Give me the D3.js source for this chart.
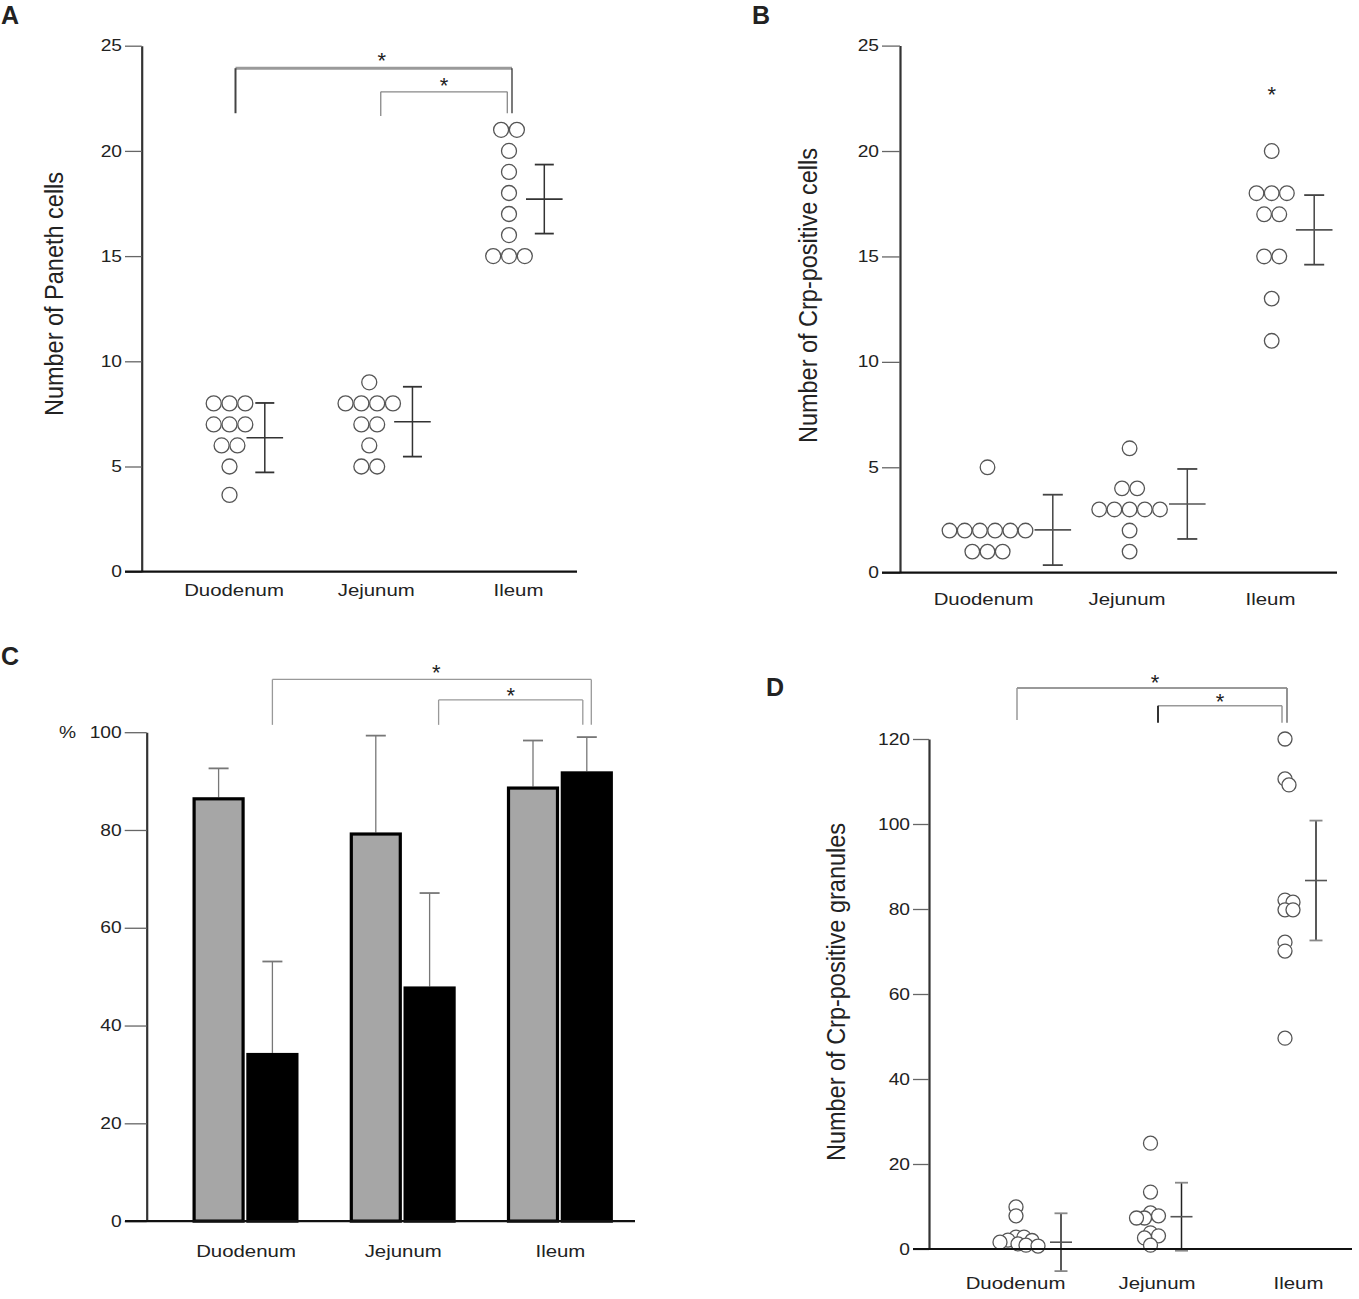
<!DOCTYPE html>
<html>
<head>
<meta charset="utf-8">
<script src="https://cdn.jsdelivr.net/npm/d3@7"></script>
<style>
  body { margin: 0; background: #fff; }
  svg text { font-family: "Liberation Sans", Arial, sans-serif; fill: #222; }
</style>
</head>
<body>
<div id="chart"></div>
<script>
const categories = ['Duodenum', 'Jejunum', 'Ileum']

// A - number of Paneth cells (per crypt), 10 crypts each
const panethDuodenum = [8, 8, 8, 7, 7, 7, 6, 6, 5, 3.65]
const panethJejunum = [9, 8, 8, 8, 8, 7, 7, 6, 5, 5]
const panethIleum = [21, 21, 20, 19, 18, 17, 16, 15, 15, 15]
const panethMean = [6.37, 7.13, 17.71]
const panethErr = [1.65, 1.66, 1.64]
const panethTicks = [0, 5, 10, 15, 20, 25]

// B - number of Crp-positive cells
const crpCellsDuodenum = [5, 2, 2, 2, 2, 2, 2, 1, 1, 1]
const crpCellsJejunum = [5.9, 4, 4, 3, 3, 3, 3, 3, 2, 1]
const crpCellsIleum = [20, 18, 18, 18, 17, 17, 15, 15, 13, 11]
const crpCellsMean = [2.03, 3.26, 16.26]
const crpCellsErr = [1.67, 1.66, 1.65]
const crpCellsTicks = [0, 5, 10, 15, 20, 25]

// C - percentages, two series per segment
const seriesKeys = ['s1', 's2']
const pctS1 = [86.7, 79.5, 88.9]
const pctS1Err = [5.9, 19.8, 9.4]
const pctS2 = [34.4, 48.0, 92.0]
const pctS2Err = [18.7, 19.1, 7.0]
const pctTicks = [0, 20, 40, 60, 80, 100]

// D - number of Crp-positive granules
const granDuodenum = [9.9, 7.8, 2.8, 2.8, 2.1, 2.0, 1.6, 1.2, 0.9, 0.7]
const granJejunum = [24.9, 13.4, 8.5, 7.8, 7.3, 7.3, 3.8, 3.1, 2.6, 0.9]
const granIleum = [120, 110.6, 109.2, 82.1, 81.6, 79.8, 79.8, 72.2, 70.1, 49.6]
const granMean = [1.6, 7.6, 86.7]
const granErr = [6.8, 8.0, 14.1]
const granTicks = [0, 20, 40, 60, 80, 100, 120]

const SX = 1.2 // the original figure is a bit stretched sideways

const svg = d3.select('#chart').append('svg')
  .attr('width', 1359).attr('height', 1299)

function txt(g, x, y, s, size, opts = {}) {
  return g.append('text')
    .attr('transform', `translate(${x},${y}) scale(${opts.sx ?? SX},1)`)
    .attr('text-anchor', opts.anchor || 'middle')
    .style('font-size', size + 'px')
    .style('font-weight', opts.bold ? 'bold' : null)
    .text(s)
}

function yTitle(g, x, y, s) {
  g.append('text')
    .attr('transform', `translate(${x},${y}) scale(1.1,1) rotate(-90)`)
    .attr('text-anchor', 'middle')
    .attr('dy', '0.36em')
    .style('font-size', '23.5px')
    .text(s)
}

function yAxis(g, y, x, tickSize, ticks) {
  const ax = g.append('g').attr('transform', `translate(${x},0)`)
    .call(d3.axisLeft(y).tickValues(ticks).tickSize(tickSize).tickSizeOuter(0).tickPadding(3))
  ax.select('.domain').attr('stroke', '#333').attr('stroke-width', 2.2)
  ax.selectAll('.tick line').attr('stroke', '#666').attr('stroke-width', 1.3)
  ax.selectAll('.tick text')
    .style('font-size', '16px')
    .attr('x', function () { return +d3.select(this).attr('x') / SX })
    .attr('transform', `scale(${SX},1)`)
}

function xBase(g, y0, x1, x2) {
  g.append('line')
    .attr('x1', x1).attr('x2', x2).attr('y1', y0).attr('y2', y0)
    .attr('stroke', '#111').attr('stroke-width', 2.2)
}

function catAxis(g, x, y0, pad) {
  const ax = g.append('g').attr('transform', `translate(0,${y0})`)
    .call(d3.axisBottom(x).tickSize(0).tickPadding(pad))
  ax.select('.domain').remove()
  ax.selectAll('.tick text')
    .style('font-size', '17px')
    .attr('transform', `scale(${SX},1)`)
}

// dots with equal values are put side by side in a row
const rows = spacing => vals => {
  const out = []
  d3.group(vals, v => v).forEach((row, v) => {
    row.forEach((_, j) => out.push({ v, off: (j - (row.length - 1) / 2) * spacing }))
  })
  return out
}

// simple beeswarm, overlapping allowed down to minDist
const swarm = (y, minDist, step) => vals => {
  const placed = []
  vals.slice().sort((a, b) => b - a).forEach(v => {
    const py = y(v)
    for (let k = 0; k < 80; k++) {
      const off = k === 0 ? 0 : (k % 2 ? 1 : -1) * Math.ceil(k / 2) * step
      if (placed.every(p => Math.hypot(p.off - off, p.py - py) >= minDist)) {
        placed.push({ v, py, off })
        break
      }
    }
  })
  return placed
}

function dotPanel(g, o) {
  o.groups.forEach((vals, i) => {
    const cx = o.x(categories[i])
    const pts = o.layout(vals)
    g.append('g').selectAll('circle')
      .data(pts)
      .join('circle')
      .attr('cx', d => cx + d.off)
      .attr('cy', d => o.y(d.v))
      .attr('r', o.r)
      .attr('fill', '#fff')
      .attr('stroke', '#555')
      .attr('stroke-width', 1.3)

    // mean +- error, drawn to the right of the dots
    const bx = cx + d3.max(pts, d => d.off) + o.r + o.gap
    const m = o.means[i], e = o.errs[i]
    const eb = g.append('g')
    eb.append('line')
      .attr('x1', bx).attr('x2', bx).attr('y1', o.y(m - e)).attr('y2', o.y(m + e))
      .attr('stroke', o.barColor || '#333').attr('stroke-width', 1.5)
    ;[m - e, m + e].forEach(v => {
      eb.append('line')
        .attr('x1', bx - o.capHalf).attr('x2', bx + o.capHalf)
        .attr('y1', o.y(v)).attr('y2', o.y(v))
        .attr('stroke', o.capColor || '#333').attr('stroke-width', 1.8)
    })
    eb.append('line')
      .attr('x1', bx - o.meanHalf).attr('x2', bx + o.meanHalf)
      .attr('y1', o.y(m)).attr('y2', o.y(m))
      .attr('stroke', o.meanColor || '#333').attr('stroke-width', 1.6)
  })
}

function bracket(g, x1, x2, yl, y1, y2, st) {
  const seg = (a, b, c, d, s) => g.append('line')
    .attr('x1', a).attr('y1', b).attr('x2', c).attr('y2', d)
    .attr('stroke', s[0]).attr('stroke-width', s[1])
  seg(x1, yl, x2, yl, st.h)
  seg(x1, yl, x1, y1, st.l)
  seg(x2, yl, x2, y2, st.r)
}

function star(g, x, cy) {
  g.append('text')
    .attr('x', x).attr('y', cy + 12)
    .attr('text-anchor', 'middle')
    .style('font-size', '22px')
    .text('*')
}

// ---------- A ----------
{
  const g = svg.append('g')
  const y = d3.scaleLinear().domain([0, 25]).range([571.7, 45.7])
  const x = d3.scalePoint().domain(categories).range([229.5, 509])
  const xl = d3.scalePoint().domain(categories).range([233.5, 518])
  txt(g, 1, 24, 'A', 25, { anchor: 'start', bold: true, sx: 1 })
  yAxis(g, y, 141.7, 16.7, panethTicks)
  xBase(g, y(0), 125, 577)
  catAxis(g, xl, y(0), 12.3)
  yTitle(g, 54, 294, 'Number of Paneth cells')
  dotPanel(g, {
    x, y, groups: [panethDuodenum, panethJejunum, panethIleum],
    means: panethMean, errs: panethErr, r: 7.5,
    layout: rows(15.8), gap: 12, meanHalf: 18.3, capHalf: 9.5
  })
  const ox1 = x('Duodenum') + 6, ox2 = x('Ileum') + 3
  bracket(g, ox1, ox2, y(23.93), y(21.79), y(21.79),
    { h: ['#9a9a9a', 3], l: ['#444', 2], r: ['#222', 1.2] })
  star(g, (ox1 + ox2) / 2 + 8, y(23.93) - 12)
  const ix1 = x('Jejunum') + 11.5, ix2 = x('Ileum') - 1.7
  bracket(g, ix1, ix2, y(22.81), y(21.66), y(21.79),
    { h: ['#888', 1.3], l: ['#888', 1.3], r: ['#888', 1.3] })
  star(g, (ix1 + ix2) / 2, y(22.81) - 11)
}

// ---------- B ----------
{
  const g = svg.append('g')
  const y = d3.scaleLinear().domain([0, 25]).range([572.7, 45.6])
  const x = d3.scalePoint().domain(categories).range([987.5, 1271.7])
  const xl = d3.scalePoint().domain(categories).range([983, 1270])
  txt(g, 752, 24, 'B', 25, { anchor: 'start', bold: true, sx: 1 })
  yAxis(g, y, 900, 18, crpCellsTicks)
  xBase(g, y(0), 882, 1337)
  catAxis(g, xl, y(0), 20.3)
  yTitle(g, 807.5, 295.6, 'Number of Crp-positive cells')
  dotPanel(g, {
    x, y, groups: [crpCellsDuodenum, crpCellsJejunum, crpCellsIleum],
    means: crpCellsMean, errs: crpCellsErr, r: 7.3,
    layout: rows(15.2), gap: 20, meanHalf: 18.3, capHalf: 10,
    barColor: '#444', capColor: '#444', meanColor: '#555'
  })
  star(g, x('Ileum'), y(22.9))
}

// ---------- C ----------
{
  const g = svg.append('g')
  const y = d3.scaleLinear().domain([0, 100]).range([1221.1, 732.2])
  const x = d3.scalePoint().domain(categories).range([245.5, 559.9])
  const xs = d3.scaleBand().domain(seriesKeys).range([-53, 53]).paddingInner(0.03)
  const fill = { s1: '#a6a6a6', s2: '#000' }
  const vals = { s1: pctS1, s2: pctS2 }
  const errs = { s1: pctS1Err, s2: pctS2Err }
  const rowsData = categories.flatMap((c, i) =>
    seriesKeys.map(k => ({ c, k, v: vals[k][i], e: errs[k][i] })))
  const bw = xs.bandwidth()
  const mid = d => x(d.c) + xs(d.k) + bw / 2

  txt(g, 1, 665, 'C', 25, { anchor: 'start', bold: true, sx: 1 })

  // error bars first so the bar outline sits on top
  const eb = g.append('g')
  eb.selectAll('line.v').data(rowsData).join('line').attr('class', 'v')
    .attr('x1', mid).attr('x2', mid)
    .attr('y1', d => y(d.v)).attr('y2', d => y(d.v + d.e))
    .attr('stroke', '#777').attr('stroke-width', 1.3)
  eb.selectAll('line.cap').data(rowsData).join('line').attr('class', 'cap')
    .attr('x1', d => mid(d) - 10).attr('x2', d => mid(d) + 10)
    .attr('y1', d => y(d.v + d.e)).attr('y2', d => y(d.v + d.e))
    .attr('stroke', '#777').attr('stroke-width', 1.8)

  g.append('g').selectAll('rect').data(rowsData).join('rect')
    .attr('x', d => x(d.c) + xs(d.k) + 1.6)
    .attr('width', bw - 3.2)
    .attr('y', d => y(d.v) + 1.6)
    .attr('height', d => y(0) - y(d.v) - 1.6)
    .attr('fill', d => fill[d.k])
    .attr('stroke', '#000')
    .attr('stroke-width', 3.2)

  yAxis(g, y, 146.7, 22, pctTicks)
  xBase(g, y(0), 125, 635)
  catAxis(g, x, y(0), 23.5)
  txt(g, 67.6, 738, '%', 16)

  const bx = c => x(c) + xs('s2') + bw / 2
  const grey = ['#999', 1.3]
  const ox1 = bx('Duodenum'), ox2 = bx('Ileum') + 4.5
  bracket(g, ox1, ox2, y(110.8), y(101.5), y(101.5), { h: grey, l: grey, r: grey })
  star(g, (ox1 + ox2) / 2 + 4.5, y(110.8) - 11.5)
  const ix1 = bx('Jejunum') + 9, ix2 = bx('Ileum') - 4
  bracket(g, ix1, ix2, y(106.6), y(101.5), y(101.5), { h: grey, l: grey, r: grey })
  star(g, (ix1 + ix2) / 2, y(106.6) - 9)
}

// ---------- D ----------
{
  const g = svg.append('g')
  const y = d3.scaleLinear().domain([0, 120]).range([1249, 739])
  const x = d3.scalePoint().domain(categories).range([1016, 1285])
  const xl = d3.scalePoint().domain(categories).range([1015, 1298])
  txt(g, 766, 696, 'D', 25, { anchor: 'start', bold: true, sx: 1 })
  dotPanel(g, {
    x, y, groups: [granDuodenum, granJejunum, granIleum],
    means: granMean, errs: granErr, r: 7,
    layout: swarm(y, 7, 2), gap: 16, meanHalf: 11, capHalf: 6.5,
    barColor: '#222', capColor: '#888', meanColor: '#555'
  })
  yAxis(g, y, 929, 16, granTicks)
  xBase(g, y(0), 913, 1352)
  catAxis(g, xl, y(0), 28)
  yTitle(g, 836, 992, 'Number of Crp-positive granules')

  const ox1 = x('Duodenum') + 1, ox2 = x('Ileum') + 2
  bracket(g, ox1, ox2, y(132), y(124.5), y(123.8),
    { h: ['#999', 1.8], l: ['#999', 1.5], r: ['#888', 1.8] })
  star(g, (ox1 + ox2) / 2 + 3, y(132) - 10)
  const ix1 = x('Jejunum') + 7.5, ix2 = x('Ileum') - 3
  bracket(g, ix1, ix2, y(127.8), y(123.8), y(123.8),
    { h: ['#999', 1.5], l: ['#333', 2], r: ['#999', 1.5] })
  star(g, (ix1 + ix2) / 2, y(127.8) - 9)
}
</script>
</body>
</html>
